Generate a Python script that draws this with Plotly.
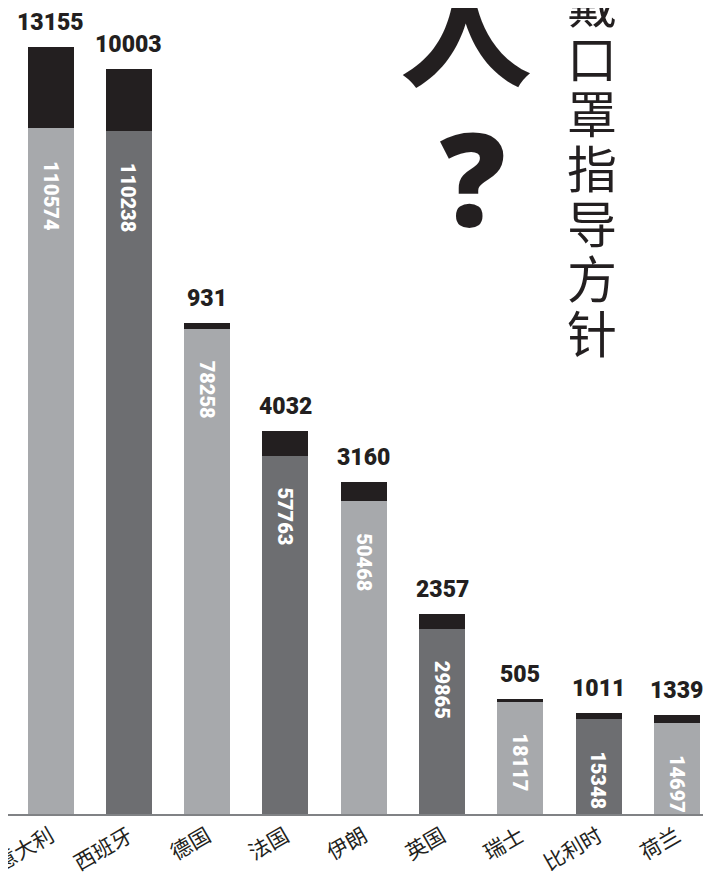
import plotly.graph_objects as go

# ---- data ----
countries = ["意大利", "西班牙", "德国", "法国", "伊朗", "英国", "瑞士", "比利时", "荷兰"]
cases = [110574, 110238, 78258, 57763, 50468, 29865, 18117, 15348, 14697]
deaths = [13155, 10003, 931, 4032, 3160, 2357, 505, 1011, 1339]
title_chars = ["戴", "口", "罩", "指", "导", "方", "针"]

# ---- style ----
W, H = 711, 878
PLOT_BOTTOM = 806  # pixel y of baseline
LIGHT = "#a7a9ac"
DARK = "#6d6e71"
BLACK = "#231f20"
NUM_FONT = "Roboto, Liberation Sans, sans-serif"
CJK_FONT = "Noto Sans CJK SC"

gray_colors = [LIGHT if i % 2 == 0 else DARK for i in range(len(countries))]


def py(px):
    """pixel y (from top) -> paper y"""
    return 1 - px / PLOT_BOTTOM


def px_x(px):
    return px / W


fig = go.Figure()
fig.add_trace(go.Bar(
    x=countries, y=cases, marker=dict(color=gray_colors, line=dict(width=0)),
    width=0.587, hoverinfo="skip"))
fig.add_trace(go.Bar(
    x=countries, y=deaths, marker=dict(color=BLACK, line=dict(width=0)),
    width=0.587, hoverinfo="skip"))

annotations = []
for c, cs, d in zip(countries, cases, deaths):
    annotations.append(dict(
        x=c, y=cs + d, xref="x", yref="y", text=str(d), showarrow=False,
        yanchor="bottom", yshift=9,
        font=dict(family=NUM_FONT, size=23, color=BLACK, weight=900)))
    annotations.append(dict(
        x=c, y=cs, xref="x", yref="y", text=str(cs), showarrow=False,
        textangle=90, yanchor="top", yshift=-30,
        font=dict(family=NUM_FONT, size=20, color="white", weight=900)))

# big "人" and "?"
annotations.append(dict(
    x=px_x(458), y=py(10), xref="paper", yref="paper", text="人",
    showarrow=False, xanchor="center", yanchor="middle",
    font=dict(family=CJK_FONT, size=134, color=BLACK, weight="bold")))
annotations.append(dict(
    x=px_x(465), y=py(168), xref="paper", yref="paper", text="?",
    showarrow=False, xanchor="center", yanchor="middle",
    font=dict(family="Noto Sans", size=130, color=BLACK, weight=900)))

# vertical title
for i, ch in enumerate(title_chars):
    annotations.append(dict(
        x=px_x(584), y=py(-7 + 55 * i), xref="paper", yref="paper", text=ch,
        showarrow=False, xanchor="center", yanchor="middle",
        font=dict(family=CJK_FONT, size=50, color=BLACK)))

fig.update_layout(
    width=W, height=H,
    margin=dict(l=0, r=0, t=0, b=H - PLOT_BOTTOM, pad=0),
    barmode="stack", showlegend=False,
    paper_bgcolor="white", plot_bgcolor="white",
    annotations=annotations,
    xaxis=dict(
        type="category", range=[-0.543, 8.537], showline=True,
        linecolor="#808285", linewidth=2, ticks="", showgrid=False,
        zeroline=False, tickangle=-30, automargin=False, fixedrange=True,
        tickfont=dict(family=CJK_FONT, size=21, color=BLACK)),
    yaxis=dict(range=[0, 130000], visible=False, fixedrange=True),
)

fig.write_html("out.html")
